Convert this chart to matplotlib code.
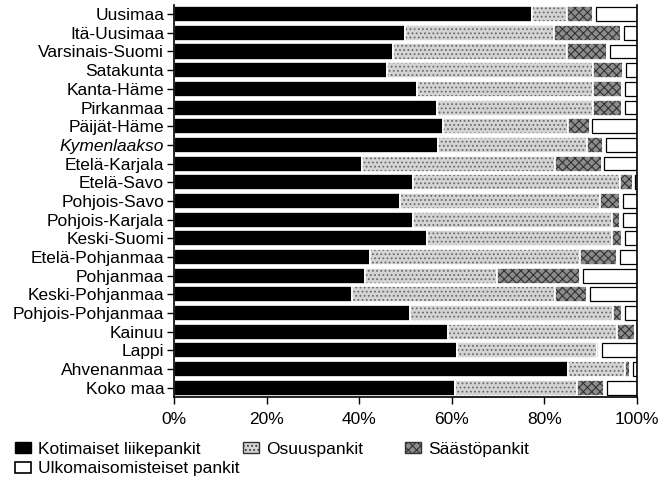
#!/usr/bin/env python3

import matplotlib
matplotlib.use('Agg')
import matplotlib.pyplot as plt
from matplotlib.patches import Patch
import numpy as np

# alueet ylhäältä alas
regions = ['Uusimaa', 'Itä-Uusimaa', 'Varsinais-Suomi', 'Satakunta', 'Kanta-Häme',
           'Pirkanmaa', 'Päijät-Häme', 'Kymenlaakso', 'Etelä-Karjala', 'Etelä-Savo',
           'Pohjois-Savo', 'Pohjois-Karjala', 'Keski-Suomi', 'Etelä-Pohjanmaa',
           'Pohjanmaa', 'Keski-Pohjanmaa', 'Pohjois-Pohjanmaa', 'Kainuu', 'Lappi',
           'Ahvenanmaa', 'Koko maa']

# osuudet, %
kotimaiset = [77.3, 49.9, 47.3, 46.0, 52.5, 56.8, 58.1, 57.0, 40.6, 51.6,
              48.8, 51.6, 54.6, 42.3, 41.3, 38.4, 51.0, 59.2, 61.1, 85.1, 60.7]
osuus = [7.6, 32.2, 37.6, 44.5, 38.0, 33.7, 27.0, 32.2, 41.7, 44.7,
         43.2, 43.0, 40.0, 45.4, 28.5, 43.9, 43.8, 36.5, 30.3, 12.3, 26.3]
saasto = [5.6, 14.5, 8.6, 6.5, 6.3, 6.3, 4.7, 3.5, 10.1, 2.8,
          4.3, 1.7, 2.2, 8.0, 17.9, 6.9, 2.0, 3.9, 0.5, 1.1, 6.0]
ulko = [9.5, 3.4, 6.5, 3.0, 3.2, 3.2, 10.2, 7.3, 7.6, 0.9,
        3.7, 3.7, 3.2, 4.3, 12.3, 10.8, 3.2, 0.4, 8.1, 1.5, 7.0]

series = ['Kotimaiset liikepankit', 'Osuuspankit', 'Säästöpankit',
          'Ulkomaisomisteiset pankit']
xticks = [0, 20, 40, 60, 80, 100]

plt.rcParams['font.family'] = ['Liberation Sans', 'DejaVu Sans']
plt.rcParams['hatch.linewidth'] = 0.8

FS = 12.5
fig = plt.figure(figsize=(6.69, 4.79), dpi=100)
ax = fig.add_axes([0.260, 0.171, 0.692, 0.819])

y = np.arange(len(regions))
h = 0.86

styles = [
    dict(color='black', hatch=None, hc='black'),
    dict(color='#d4d4d4', hatch='....', hc='#6a6a6a'),
    dict(color='#8c8c8c', hatch='xxxx', hc='#333333'),
    dict(color='white', hatch=None, hc='black'),
]

left = np.zeros(len(regions))
for vals, st in zip([kotimaiset, osuus, saasto, ulko], styles):
    vals = np.array(vals)
    ax.barh(y, vals, left=left, height=h, color=st['color'],
            hatch=st['hatch'], edgecolor=st['hc'], linewidth=0)
    # valkoiset erottimet
    ax.barh(y, vals, left=left, height=h, facecolor='none',
            edgecolor='white', linewidth=1.2)
    left += vals

# ulkomaisten palkeille musta reunus
ulko_left = np.array(kotimaiset) + np.array(osuus) + np.array(saasto)
ax.barh(y, np.array(ulko) - 0.6, left=ulko_left + 0.6, height=h - 0.12,
        facecolor='none', edgecolor='black', linewidth=0.9)

ax.set_xlim(0, 100)
ax.set_ylim(len(regions) - 0.5, -0.5)
ax.set_yticks(y)
ax.set_yticklabels(regions, fontsize=FS)
ax.get_yticklabels()[regions.index('Kymenlaakso')].set_style('italic')
ax.set_xticks(xticks)
ax.set_xticklabels([f'{t}%' for t in xticks], fontsize=FS)
ax.tick_params(axis='y', length=5, width=1, pad=2)
ax.tick_params(axis='x', length=5, width=1, pad=6)
for s in ['left', 'bottom', 'right']:
    ax.spines[s].set_linewidth(1.2)
ax.spines['top'].set_visible(False)

h_koti = Patch(facecolor='black', edgecolor='black', label=series[0])
h_ulko = Patch(facecolor='white', edgecolor='black', linewidth=1.2, label=series[3])
h_osuus = Patch(facecolor='#d4d4d4', edgecolor='#333333', hatch='....', label=series[1])
h_saasto = Patch(facecolor='#8c8c8c', edgecolor='#333333', hatch='xxxx', label=series[2])

leg_kw = dict(loc='upper left', frameon=False, fontsize=FS, handlelength=0.9,
              handleheight=0.6, handletextpad=0.45, labelspacing=0.25,
              borderpad=0, borderaxespad=0)
top = 1 - 442 / 479
fig.legend(handles=[h_koti, h_ulko], bbox_to_anchor=(15 / 669, top), **leg_kw)
fig.legend(handles=[h_osuus], bbox_to_anchor=(243 / 669, top), **leg_kw)
fig.legend(handles=[h_saasto], bbox_to_anchor=(405 / 669, top), **leg_kw)

fig.savefig('out.png', dpi=100)
